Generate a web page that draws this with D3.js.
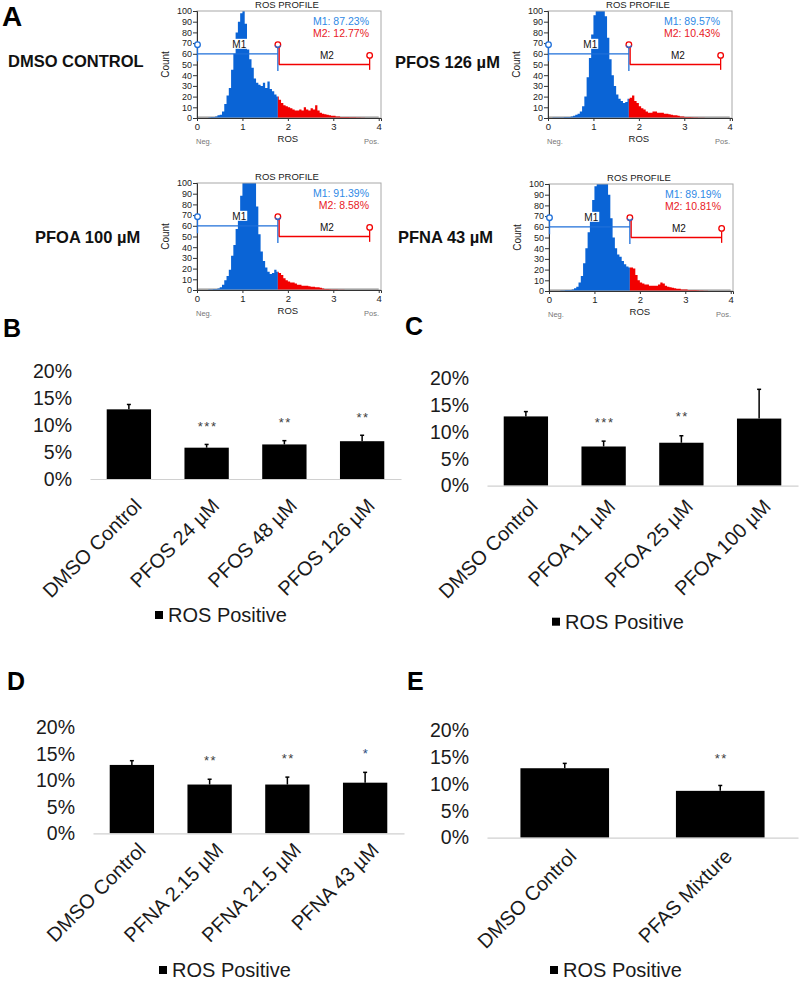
<!DOCTYPE html>
<html><head><meta charset="utf-8">
<script src="https://cdn.jsdelivr.net/npm/d3@7"></script>
<style>body{margin:0;background:#fff;} svg{display:block;font-family:"Liberation Sans",Arial,sans-serif;}</style>
</head><body>
<svg id="chart" width="800" height="981"></svg>
<script>
// ---------------- DATA ----------------
const binWidth = 0.05;           // ROS histogram bin width
const gateM1M2 = 1.78;           // boundary between M1 and M2
const gateM2End = 3.8;
const histXTicks = [0, 1, 2, 3, 4];
const histYTicks = [0, 10, 20, 30, 40, 50, 60, 70, 80, 90, 100];

const histDMSO = [0,0,0,0,0,0.5,1,1,1.5,2.5,3,6,13,21,28,45,60,80,90,98,
  104,88,64,55,47,37,33,31,30,33,28,34,27,25,22,20,17,14,12,11,
  10,9,8,7,7,8,7,10,8,7,9,8,12,7,5,4,3.5,3,2.5,2,
  2,1.5,1.5,1,1,1,1,0.8,0.8,0.6,0.5,0.5,0.3,0.2,0,0,0,0,0,0];
const histPFOS126 = [0,0,0.5,0.5,0.5,0.5,0.5,1,1,1,1.5,2,3,4,6,11,20,38,56,78,
  96,112,118,116,110,95,75,55,40,30,22,18,16,14,15,18,19,21,16,14,
  11,9,8,6,5,5,6,6,5,5,5,4,4,3.5,3,2.5,2.5,2,1.5,1.5,
  1,1,1,0.8,0.5,0.5,0.3,0.3,0.2,0,0,0,0,0,0,0,0,0,0,0];
const histPFOA100 = [0,0,0,0,0,0.5,0.5,1,1,1.5,2.5,5,9,13,19,32,42,57,71,88,
  100,115,122,120,112,100,78,52,36,27,21,17,15,16,19,17,16,14,11,9,
  8,7,7,6,5,5,4,4,4,3.5,3,3,2.5,2.5,2,1.5,1,1,0.8,0.5,
  0.5,0.5,0.3,0.3,0.2,0,0,0,0,0,0,0,0,0,0,0,0,0,0,0];
const histPFNA43 = [0,0,0,0,0,0.5,0.5,1,1,1,1.5,2.5,4,8,14,26,40,55,70,85,
  98,110,118,120,115,108,90,68,50,40,34,32,28,25,23,22,22,21,15,10,
  8,7,6,6,5,5,5,5,6,8,7,5,4,3.5,3,2.5,2,2,1.5,1.5,
  1.5,1,1,1,1,0.8,0.5,0.5,0.3,0.2,0,0,0,0,0,0,0,0,0,0];

const histNames = ["DMSO CONTROL", "PFOS 126 µM", "PFOA 100 µM", "PFNA 43 µM"];
const histM1 = ["M1: 87.23%", "M1: 89.57%", "M1: 91.39%", "M1: 89.19%"];
const histM2 = ["M2: 12.77%", "M2: 10.43%", "M2: 8.58%", "M2: 10.81%"];
const histSeries = [histDMSO, histPFOS126, histPFOA100, histPFNA43];

const barYTicks = [0, 5, 10, 15, 20];
const catsB = ["DMSO Control", "PFOS 24 µM", "PFOS 48 µM", "PFOS 126 µM"];
const valsB = [12.9, 5.8, 6.4, 7.0];
const errB  = [0.9, 0.6, 0.7, 1.1];
const starsB = ["", "***", "**", "**"];

const catsC = ["DMSO Control", "PFOA 11 µM", "PFOA 25 µM", "PFOA 100 µM"];
const valsC = [12.9, 7.3, 8.0, 12.5];
const errC  = [0.9, 1.0, 1.3, 5.45];
const starsC = ["", "***", "**", ""];

const catsD = ["DMSO Control", "PFNA 2.15 µM", "PFNA 21.5 µM", "PFNA 43 µM"];
const valsD = [12.9, 9.2, 9.2, 9.55];
const errD  = [0.8, 1.0, 1.4, 1.95];
const starsD = ["", "**", "**", "*"];

const catsE = ["DMSO Control", "PFAS Mixture"];
const valsE = [12.9, 8.7];
const errE  = [0.9, 1.0];
const starsE = ["", "**"];

const legendLabel = "ROS Positive";

// ---------------- LAYOUT / STYLE ----------------
const svg = d3.select("#chart");
const defs = svg.append("defs");
const BLUE = "#0a64d6", BLUE_M = "#1e6fd9", BLUE_T = "#2f8ae6", RED = "#f20000", RED_T = "#e8191e";

svg.append("text").attr("x", 2).attr("y", 25.5).attr("font-size", 28).attr("font-weight", "bold").text("A");

const histLayout = [
  {left: 197, top: 11, lx: 8, ly: 67},
  {left: 548, top: 11, lx: 395, ly: 68},
  {left: 197, top: 183, lx: 35, ly: 243},
  {left: 549, top: 184, lx: 398, ly: 243}
];
const HW = 184, HH = 107;

histSeries.forEach((bins, k) => {
  const L = histLayout[k];
  const g = svg.append("g");
  const x = d3.scaleLinear().domain([0, 4.05]).range([L.left, L.left + HW]);
  const y = d3.scaleLinear().domain([0, 100]).range([L.top + HH, L.top]);

  g.append("text").attr("x", L.lx).attr("y", L.ly).attr("font-size", 16.5).attr("font-weight", "bold")
    .attr("fill", "#111").text(histNames[k]);

  g.append("text").attr("x", (L.left + L.left + HW) / 2 - 2).attr("y", L.top - 3)
    .attr("text-anchor", "middle").attr("font-size", 9.5).attr("fill", "#222").text("ROS PROFILE");

  const cb = "cb" + k, cr = "cr" + k;
  defs.append("clipPath").attr("id", cb).append("rect")
    .attr("x", x(0)).attr("y", L.top).attr("width", x(gateM1M2) - x(0)).attr("height", HH);
  defs.append("clipPath").attr("id", cr).append("rect")
    .attr("x", x(gateM1M2)).attr("y", L.top).attr("width", x(4.05) - x(gateM1M2)).attr("height", HH);

  g.append("line").attr("x1", x(0)).attr("x2", x(4)).attr("y1", y(0.8)).attr("y2", y(0.8))
    .attr("stroke", "#666").attr("stroke-width", 1);

  const pts = bins.map((v, i) => [i * binWidth, v]);
  pts.push([bins.length * binWidth, 0]);
  const area = d3.area().x(d => x(d[0])).y0(y(0)).y1(d => y(Math.min(d[1], 105))).curve(d3.curveStepAfter);
  g.append("path").attr("d", area(pts)).attr("fill", BLUE).attr("clip-path", `url(#${cb})`);
  g.append("path").attr("d", area(pts)).attr("fill", RED).attr("clip-path", `url(#${cr})`);

  g.append("rect").attr("x", L.left).attr("y", L.top).attr("width", HW).attr("height", HH)
    .attr("fill", "none").attr("stroke", "#a8a8a8");

  const ya = g.append("g").attr("transform", `translate(${L.left},0)`)
    .call(d3.axisLeft(y).tickValues(histYTicks).tickSize(4).tickPadding(1));
  ya.select(".domain").attr("stroke", "#333");
  ya.selectAll("text").attr("font-size", 9).attr("fill", "#222").attr("font-family", "Liberation Sans, Arial");
  ya.selectAll("line").attr("stroke", "#333");
  const xa = g.append("g").attr("transform", `translate(0,${L.top + HH})`)
    .call(d3.axisBottom(x).tickValues(histXTicks).tickFormat(d3.format("d")).tickSize(3).tickPadding(2));
  xa.select(".domain").attr("stroke", "#333");
  xa.selectAll("text").attr("font-size", 9.5).attr("fill", "#222").attr("font-family", "Liberation Sans, Arial");
  xa.selectAll("line").attr("stroke", "#333");

  g.append("text").attr("x", x(2)).attr("y", L.top + HH + 24).attr("text-anchor", "middle")
    .attr("font-size", 9.5).attr("fill", "#222").text("ROS");
  g.append("text").attr("x", L.left - 1).attr("y", L.top + HH + 26).attr("font-size", 7.5).attr("fill", "#777").text("Neg.");
  g.append("text").attr("x", L.left + HW - 2).attr("y", L.top + HH + 26).attr("text-anchor", "end")
    .attr("font-size", 7.5).attr("fill", "#777").text("Pos.");
  g.append("text").attr("transform", `translate(${L.left - 28},${L.top + HH / 2}) rotate(-90)`)
    .attr("text-anchor", "middle").attr("font-size", 10).attr("fill", "#222").text("Count");

  g.append("text").attr("x", L.left + HW - 12).attr("y", L.top + 13.5).attr("text-anchor", "end")
    .attr("font-size", 10.5).attr("fill", BLUE_T).text(histM1[k]);
  g.append("text").attr("x", L.left + HW - 12).attr("y", L.top + 26).attr("text-anchor", "end")
    .attr("font-size", 10.5).attr("fill", RED_T).text(histM2[k]);

  const r = 2.8;
  const mk = g.append("g").attr("fill", "none").attr("stroke-width", 1.3);
  mk.append("line").attr("x1", x(0)).attr("x2", x(gateM1M2)).attr("y1", y(60)).attr("y2", y(60)).attr("stroke", BLUE_M);
  mk.append("line").attr("x1", x(0) + 0.5).attr("x2", x(0) + 0.5).attr("y1", y(66)).attr("y2", y(53)).attr("stroke", BLUE_M);
  mk.append("line").attr("x1", x(gateM1M2)).attr("x2", x(gateM1M2)).attr("y1", y(66)).attr("y2", y(44)).attr("stroke", BLUE_M);
  mk.append("circle").attr("cx", x(0) + 0.5).attr("cy", y(68.5)).attr("r", r).attr("stroke", BLUE_M).attr("fill", "#fff");
  mk.append("line").attr("x1", x(gateM1M2) + 1).attr("x2", x(gateM2End)).attr("y1", y(50)).attr("y2", y(50)).attr("stroke", RED);
  mk.append("line").attr("x1", x(gateM1M2) + 1.3).attr("x2", x(gateM1M2) + 1.3).attr("y1", y(66)).attr("y2", y(50)).attr("stroke", RED);
  mk.append("circle").attr("cx", x(gateM1M2)).attr("cy", y(68.5)).attr("r", r).attr("stroke", RED).attr("fill", "#fff");
  mk.append("path").attr("d", d3.arc()({innerRadius: r, outerRadius: r, startAngle: Math.PI * 0.6, endAngle: Math.PI * 1.4}))
    .attr("transform", `translate(${x(gateM1M2)},${y(68.5)})`).attr("stroke", BLUE_M);
  mk.append("line").attr("x1", x(gateM2End)).attr("x2", x(gateM2End)).attr("y1", y(56)).attr("y2", y(45)).attr("stroke", RED);
  mk.append("circle").attr("cx", x(gateM2End)).attr("cy", y(58.5)).attr("r", r).attr("stroke", RED).attr("fill", "#fff");

  g.append("rect").attr("x", x(0.93) - 8).attr("y", y(74)).attr("width", 16).attr("height", 10).attr("fill", "#fff");
  g.append("text").attr("x", x(0.93)).attr("y", y(65)).attr("text-anchor", "middle").attr("font-size", 10).attr("fill", "#111").text("M1");
  g.append("text").attr("x", x(2.86)).attr("y", y(55)).attr("text-anchor", "middle").attr("font-size", 10).attr("fill", "#111").text("M2");
});

// ---------------- BAR CHARTS ----------------
const barPanels = [
  {letter: "B", lx: 3, ly: 337, cats: catsB, vals: valsB, errs: errB, stars: starsB,
   x0: 90, x1: 401, y0: 479, y20: 371, starGap: 21, legX: 155, legY: 615, labDx: 14, labDy: 28},
  {letter: "C", lx: 405, ly: 335, cats: catsC, vals: valsC, errs: errC, stars: starsC,
   x0: 487, x1: 798, y0: 485.7, y20: 378.3, starGap: 22, legX: 552, legY: 621.7, labDx: 13, labDy: 22},
  {letter: "D", lx: 7, ly: 690, cats: catsD, vals: valsD, errs: errD, stars: starsD,
   x0: 93, x1: 404, y0: 833.3, y20: 727.3, starGap: 22, legX: 159, legY: 970, labDx: 15, labDy: 18},
  {letter: "E", lx: 407, ly: 690, cats: catsE, vals: valsE, errs: errE, stars: starsE,
   x0: 487, x1: 798, y0: 837.7, y20: 730, starGap: 30, legX: 550, legY: 970, labDx: 13, labDy: 20}
];

barPanels.forEach((P, pi) => {
  const g = svg.append("g");
  g.append("text").attr("x", P.lx).attr("y", P.ly).attr("font-size", 25).attr("font-weight", "bold").text(P.letter);
  const x = d3.scaleBand().domain(P.cats).range([P.x0, P.x1]).paddingInner(0.43).paddingOuter(0.215);
  const y = d3.scaleLinear().domain([0, 20]).range([P.y0, P.y20]);

  const ya = g.append("g").attr("transform", `translate(${P.x0 - 18},0)`)
    .call(d3.axisLeft(y).tickValues(barYTicks).tickSize(0).tickPadding(0).tickFormat(d => d + "%"));
  ya.select(".domain").remove();
  ya.selectAll("text").attr("font-size", 19.5).attr("fill", "#1a1a1a").attr("font-family", "Liberation Sans, Arial");

  g.selectAll(".bar").data(P.vals).enter().append("rect")
    .attr("x", (d, i) => x(P.cats[i])).attr("width", x.bandwidth())
    .attr("y", d => y(d)).attr("height", d => y(0) - y(d)).attr("fill", "#000");

  g.selectAll(".err").data(P.vals).enter().append("line")
    .attr("x1", (d, i) => x(P.cats[i]) + x.bandwidth() / 2).attr("x2", (d, i) => x(P.cats[i]) + x.bandwidth() / 2)
    .attr("y1", d => y(d)).attr("y2", (d, i) => y(d + P.errs[i])).attr("stroke", "#000").attr("stroke-width", 1.5);
  g.selectAll(".cap").data(P.vals).enter().append("line")
    .attr("x1", (d, i) => x(P.cats[i]) + x.bandwidth() / 2 - 2).attr("x2", (d, i) => x(P.cats[i]) + x.bandwidth() / 2 + 2)
    .attr("y1", (d, i) => y(d + P.errs[i])).attr("y2", (d, i) => y(d + P.errs[i])).attr("stroke", "#000").attr("stroke-width", 1.5);

  g.selectAll(".star").data(P.stars).enter().append("text")
    .attr("x", (d, i) => x(P.cats[i]) + x.bandwidth() / 2 + 1)
    .attr("y", (d, i) => y(P.vals[i] + P.errs[i]) - P.starGap + 7.4)
    .attr("text-anchor", "middle").attr("font-size", 13).attr("letter-spacing", 1.5)
    .attr("fill", (d, i) => (pi === 2 && i === 3) ? "#2b4c7e" : "#404040").text(d => d);

  const xa = g.append("g").attr("transform", `translate(0,${P.y0})`).call(d3.axisBottom(x).tickSize(0).tickPadding(0));
  xa.select(".domain").attr("stroke", "#d0d0d0").attr("stroke-width", 1.2);
  xa.selectAll("text").attr("font-size", 20).attr("fill", "#1a1a1a").attr("font-family", "Liberation Sans, Arial")
    .attr("text-anchor", "end").attr("dy", null).attr("y", 0).attr("x", 0)
    .attr("transform", `translate(${P.labDx},${P.labDy}) rotate(-45)`);

  g.append("rect").attr("x", P.legX).attr("y", P.legY - 4).attr("width", 8).attr("height", 8).attr("fill", "#000");
  g.append("text").attr("x", P.legX + 13).attr("y", P.legY).attr("dy", "0.35em").attr("font-size", 20)
    .attr("fill", "#1a1a1a").text(legendLabel);
});
</script>
</body></html>
